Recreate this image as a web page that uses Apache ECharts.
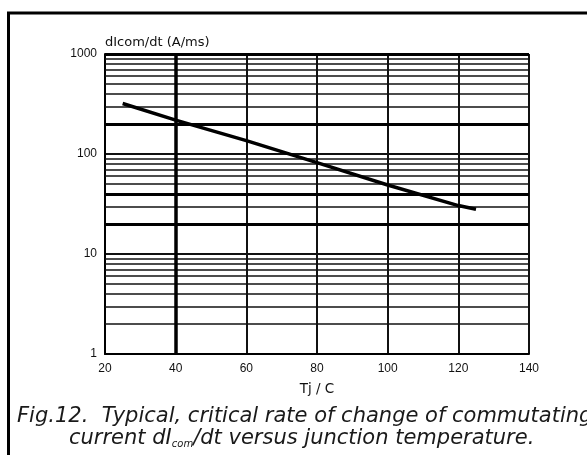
<!DOCTYPE html>
<html>
<head>
<meta charset="utf-8">
<script src="https://cdn.jsdelivr.net/npm/echarts@6/dist/echarts.min.js"></script>
<style>
html,body{margin:0;padding:0;background:#fff;}
#chart{width:587px;height:455px;}
</style>
</head>
<body>
<div id="chart"></div>
<script>
// Data
var tjValues = [25, 40, 60, 80, 100, 120, 125];
var didtValues = [320, 218, 136, 82, 49, 30.5, 28];
var xTickLabels = ['20', '40', '60', '80', '100', '120', '140'];
var yTickLabels = ['1', '10', '100', '1000'];
var minorGridValues = [2, 3, 4, 5, 6, 7, 8, 9, 30, 50, 60, 70, 80, 90, 300, 400, 500, 600, 700, 800, 900];
var heavyGridValues = [20, 40, 200, 1000];
var heavyVertical = [40];

var chart = echarts.init(document.getElementById('chart'), null, {renderer: 'canvas'});
var FONT = 'Liberation Sans, Arial, sans-serif';
var WIDE = 'DejaVu Sans, sans-serif';

var lineData = tjValues.map(function (t, i) { return [t, didtValues[i]]; });

var markData = [];
minorGridValues.forEach(function (v) {
  markData.push({yAxis: v, lineStyle: {color: '#111', width: 1.6, type: 'solid'}});
});
heavyGridValues.forEach(function (v) {
  markData.push({yAxis: v, lineStyle: {color: '#000', width: 3, type: 'solid'}});
});
heavyVertical.forEach(function (v) {
  markData.push({xAxis: v, lineStyle: {color: '#000', width: 3.5, type: 'solid'}});
});

var option = {
  backgroundColor: '#fff',
  animation: false,
  grid: {left: 105, right: 58, top: 54, bottom: 101, containLabel: false},
  title: [
    {
      text: 'Fig.12.  Typical, critical rate of change of commutating',
      left: 12, top: 400,
      textStyle: {fontFamily: WIDE, fontStyle: 'italic', fontWeight: 'normal', fontSize: 21, color: '#1a1a1a', lineHeight: 24}
    },
    {
      text: 'current dI{s|com}/dt versus junction temperature.',
      left: 64, top: 422,
      textStyle: {
        fontFamily: WIDE, fontStyle: 'italic', fontWeight: 'normal', fontSize: 21, color: '#1a1a1a', lineHeight: 24,
        rich: {
          s: {fontFamily: WIDE, fontStyle: 'italic', fontSize: 10, color: '#1a1a1a', padding: [10, 0, 0, 0]}
        }
      }
    }
  ],
  graphic: [
    {
      type: 'rect',
      shape: {x: 8.5, y: 13, width: 700, height: 600},
      style: {fill: 'none', stroke: '#000', lineWidth: 3},
      silent: true
    }
  ],
  xAxis: {
    type: 'value',
    min: 20, max: 140, interval: 20,
    name: 'Tj / C',
    nameLocation: 'middle',
    nameGap: 28,
    nameTextStyle: {fontFamily: WIDE, fontSize: 13.5, color: '#111'},
    axisLine: {show: true, lineStyle: {color: '#000', width: 2}},
    axisTick: {show: false},
    axisLabel: {
      margin: 9, fontFamily: FONT, fontSize: 12, color: '#111',
      formatter: function (v) { var i = xTickLabels.indexOf(String(v)); return i >= 0 ? xTickLabels[i] : ''; }
    },
    splitLine: {show: true, lineStyle: {color: '#111', width: 2}}
  },
  yAxis: {
    type: 'log',
    logBase: 10,
    min: 1, max: 1000,
    name: 'dIcom/dt (A/ms)',
    nameLocation: 'end',
    nameGap: 5,
    nameTextStyle: {fontFamily: WIDE, fontSize: 13, color: '#111', align: 'left', verticalAlign: 'bottom'},
    axisLine: {show: true, lineStyle: {color: '#000', width: 2}},
    axisTick: {show: false},
    axisLabel: {
      margin: 8, fontFamily: FONT, fontSize: 12, color: '#111',
      formatter: function (v) { var i = yTickLabels.indexOf(String(Math.round(v))); return i >= 0 ? yTickLabels[i] : ''; }
    },
    splitLine: {show: true, lineStyle: {color: '#111', width: 2}}
  },
  series: [
    {
      type: 'line',
      data: lineData,
      showSymbol: false,
      symbol: 'none',
      lineStyle: {color: '#000', width: 3.5},
      z: 5,
      markLine: {
        silent: true,
        symbol: ['none', 'none'],
        label: {show: false},
        animation: false,
        data: markData
      }
    }
  ]
};
chart.setOption(option);
</script>
</body>
</html>
